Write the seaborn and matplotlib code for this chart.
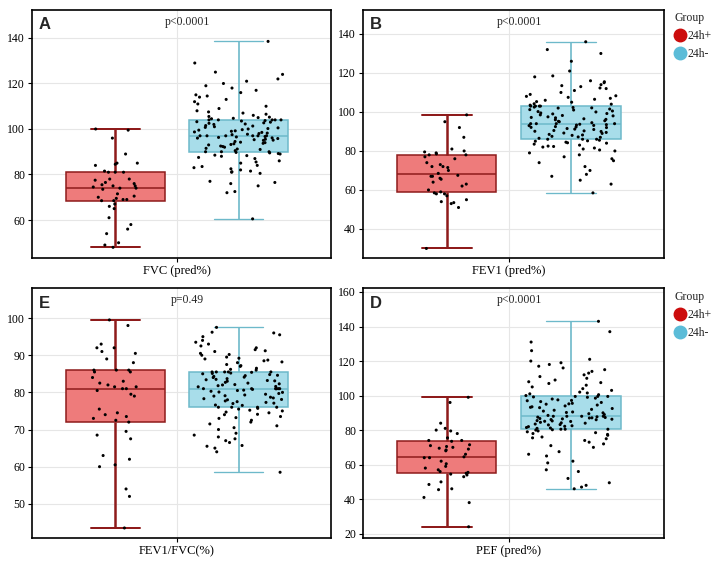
import numpy as np
import pandas as pd
import matplotlib
matplotlib.use("Agg")
import matplotlib.pyplot as plt
from matplotlib.lines import Line2D
import seaborn as sns

# ---- data ----
groups = ["24h+", "24h-"]
panel_letters = ["A", "B", "E", "D"]
variables = ["FVC (pred%)", "FEV1 (pred%)", "FEV1/FVC(%)", "PEF (pred%)"]
p_labels = ["p<0.0001", "p<0.0001", "p=0.49", "p<0.0001"]

fvc_pos = [100, 99.5, 96, 89, 85, 85, 84.5, 84, 81.5, 81, 81, 78, 78, 77.5,
           76.5, 76, 75.5, 75, 75, 74.5, 74, 74, 73.5, 71.5, 70.5, 70, 69.5,
           69, 69, 68.5, 68.5, 67, 66, 65, 61, 58, 56, 54, 50, 49, 48, 81]
fvc_neg = [60.5, 72, 72.5, 75, 76, 76.5, 77, 80.5, 81, 81.2, 81.5, 82, 82.5,
           83, 83.5, 84, 85, 85.5, 86, 87, 87.5, 88, 88.3, 88.5, 89, 89.2,
           89.5, 89.7, 90, 90,
           90, 90.5, 91, 91.2, 91.5, 92, 92.3, 92.5, 93, 93.2, 93.5, 93.7,
           94, 94.2, 94.5, 95, 95.1, 95.3, 95.5, 95.8, 96, 96.1, 96.3, 96.5,
           96.7, 97, 97, 97, 97, 97,
           97, 97.5, 97.7, 98, 98.2, 98.5, 98.7, 99, 99.2, 99.5, 99.7, 100,
           100.2, 100.5, 100.7, 101, 101.3, 101.5, 102, 102.2, 102.5, 102.7,
           103, 103.2, 103.5, 103.7, 104, 104, 104, 104,
           104, 104.5, 104.7, 105, 105.2, 105.5, 106, 106.5, 107, 107.5, 108,
           109, 110, 111, 112, 113, 114, 114.5, 115, 116, 117, 118, 119, 120,
           121, 122, 124, 125, 129, 138.5]

fev1_pos = [98.5, 95, 92, 87, 81, 80, 79.5, 79, 78.5, 78, 78, 77, 76, 74,
            73, 72, 72, 71.5, 70, 68.5, 67.5, 67, 67, 66, 65.5, 64, 63, 62,
            60, 59, 58.5, 58, 58, 57, 55, 54, 53.5, 53, 51, 30]
fev1_neg = [58.5, 63, 65, 67, 68, 70, 72, 74, 75, 76, 77, 78, 79, 80, 80.5,
            81, 81.5, 82, 82.3, 82.5, 83, 83.5, 84, 84.2, 84.5, 85, 85.2, 85.5,
            86, 86,
            86, 86.5, 87, 87.2, 87.5, 88, 88.2, 88.5, 89, 89.2, 89.5, 90, 90.1,
            90.3, 90.5, 91, 91.2, 91.5, 92, 92.1, 92.3, 92.5, 93, 93.1, 93.3,
            93.5, 93.7, 94, 94, 94,
            94, 94.5, 95, 95.2, 95.5, 96, 96.2, 96.5, 97, 97.2, 97.5, 98, 98.2,
            98.5, 99, 99.2, 99.5, 100, 100.2, 100.5, 101, 101.2, 101.5, 102,
            102.1, 102.3, 102.5, 103, 103, 103,
            103, 103.5, 104, 104.2, 105, 105.3, 106, 106.5, 107, 107.5, 108,
            108.3, 109, 110, 111, 112, 112.3, 113, 113.5, 114, 115, 115.5, 116,
            118, 118.5, 121, 126, 130, 132, 136]

ratio_pos = [99.5, 98, 93, 92, 92, 91, 90.5, 89, 88, 86, 86, 86, 85.5, 85.5,
             84, 83, 82.5, 82, 81.5, 81.5, 81, 81, 80.5, 79.5, 79, 75.5, 74.5,
             74, 73.5, 73, 72.5, 72, 69.5, 68.5, 67.5, 63, 62, 60.5, 60, 54,
             52, 43.5]
ratio_neg = [58.5, 64, 65, 65.5, 65.7, 66.5, 67, 67.5, 68, 68.5, 69, 70, 70.5,
             71, 71.5, 72, 72.5, 73, 73.2, 73.5, 74, 74.1, 74.5, 74.7, 75,
             75.2, 75.5, 75.7, 76, 76,
             76, 76, 76.5, 76.6, 77, 77.1, 77.3, 77.5, 77.7, 78, 78.1, 78.3,
             78.5, 78.7, 79, 79.1, 79.3, 79.5, 79.7, 80, 80.1, 80.3, 80.5, 80.6,
             80.8, 81, 81, 81, 81, 81,
             81, 81, 81.5, 81.6, 81.8, 82, 82.1, 82.3, 82.5, 82.7, 83, 83.1,
             83.2, 83.4, 83.5, 83.7, 84, 84.1, 84.3, 84.5, 84.6, 84.8, 85, 85.1,
             85.2, 85.4, 85.5, 85.5, 85.5, 85.5,
             85.5, 86, 86.2, 86.5, 87, 87.2, 87.5, 88, 88.2, 88.5, 88.7, 89,
             89.2, 89.5, 90, 90.2, 90.5, 91, 91.2, 91.5, 92, 92.5, 93, 93.5,
             94, 95, 95.5, 96, 96.2, 97.5]

pef_pos = [99, 96, 84, 81, 80, 79.5, 78, 75.5, 74, 74, 73.5, 71.5, 71, 70.5,
           70, 69.5, 69, 68.5, 68, 66, 64, 64.5, 64, 62, 60.5, 59, 58, 57, 56,
           55.5, 55, 54.5, 54, 53, 50, 48.5, 46, 45.5, 41, 38, 24]
pef_neg = [46, 47, 48, 49.5, 52, 56, 57, 61, 62, 65, 66, 67.5, 70, 71, 72, 73,
           74, 75, 75.5, 76, 77, 77.5, 78, 78.5, 79, 79.5, 80, 80.2, 80.5, 80.5,
           80.5, 81, 81.2, 81.5, 82, 82.2, 82.5, 83, 83.2, 83.5, 84, 84.2,
           84.5, 85, 85.1, 85.3, 85.5, 86, 86.1, 86.3, 86.5, 86.7, 87, 87.1,
           87.3, 87.5, 87.7, 88, 88, 88,
           88, 88.5, 89, 89.5, 90, 90.2, 90.5, 91, 91.5, 92, 92.5, 93, 93.2,
           93.5, 94, 94.5, 95, 95.2, 95.5, 96, 96.5, 97, 97.2, 97.5, 98, 98.5,
           99, 99.2, 99.5, 99.5,
           99.5, 100, 100.5, 101, 101.5, 102, 103, 104, 105, 106, 107, 107.5,
           108, 109, 110, 111, 112, 113, 114, 115, 116, 117, 118, 119, 120,
           121, 126, 131, 137, 143]

panel_data = [(fvc_pos, fvc_neg), (fev1_pos, fev1_neg),
              (ratio_pos, ratio_neg), (pef_pos, pef_neg)]

# ---- styling ----
box_face = {"24h+": "#EE7B7B", "24h-": "#A8DDEA"}
box_edge = {"24h+": "#8E1B1B", "24h-": "#6DB9CA"}
legend_colors = {"24h+": "#CC0C0C", "24h-": "#5BBCD8"}
jitter = {"24h+": 0.15, "24h-": 0.29}
whisker_lw = {"24h+": 1.8, "24h-": 1.2}

axes_pos = [[32 / 720, 306 / 564, 299 / 720, 248 / 564],
            [363 / 720, 306 / 564, 301 / 720, 248 / 564],
            [32 / 720, 26 / 564, 299 / 720, 250 / 564],
            [363 / 720, 26 / 564, 301 / 720, 250 / 564]]
ylims = [(43.3, 152.3), (25.1, 152.3), (40.8, 108.1), (17.5, 162.3)]
yticks = [range(60, 141, 20), range(40, 141, 20), range(50, 101, 10),
          range(20, 161, 20)]

sns.set_theme(style="white")
plt.rcParams["font.family"] = ["Liberation Serif", "DejaVu Serif"]
np.random.seed(7)

fig = plt.figure(figsize=(7.2, 5.64), dpi=100)

for i in range(4):
    ax = fig.add_axes(axes_pos[i])
    pos, neg = panel_data[i]
    df = pd.DataFrame({
        "var": variables[i],
        "value": list(pos) + list(neg),
        "group": ["24h+"] * len(pos) + ["24h-"] * len(neg),
    })
    for g in groups:
        sub = df[df["group"] == g]
        sns.boxplot(data=sub, x="var", y="value", hue="group",
                    hue_order=groups, palette=box_face, dodge=True,
                    width=0.8, gap=0.2, whis=(0, 100), saturation=1,
                    linecolor=box_edge[g], linewidth=1.1, showfliers=False,
                    whiskerprops={"linewidth": whisker_lw[g]},
                    capprops={"linewidth": whisker_lw[g] * 0.8},
                    legend=False, ax=ax)
    for g in groups:
        sub = df[df["group"] == g]
        sns.stripplot(data=sub, x="var", y="value", hue="group",
                      hue_order=groups, palette={k: "black" for k in groups},
                      dodge=True, jitter=jitter[g], size=2.2, linewidth=0,
                      legend=False, ax=ax, zorder=5)

    ax.set_xlim(-0.47, 0.5)
    ax.set_ylim(*ylims[i])
    ax.set_yticks(list(yticks[i]))
    ax.set_xlabel("")
    ax.set_ylabel("")
    ax.grid(True, color="#E6E6E6", linewidth=0.8)
    ax.set_axisbelow(True)
    for s in ax.spines.values():
        s.set_color("black")
        s.set_linewidth(1.2)
    ax.tick_params(axis="both", which="both", direction="out", length=3,
                   width=0.8, colors="black", labelsize=8.5, pad=2,
                   left=True, bottom=True)
    ax.tick_params(axis="x", labelsize=9)

    ax.text(0.023, 0.94, panel_letters[i], transform=ax.transAxes,
            fontsize=12, fontweight="bold", family="Liberation Sans",
            ha="left", va="center")
    ax.text(0.52, 0.95, p_labels[i], transform=ax.transAxes, fontsize=8.5,
            ha="center", va="center")

handles = [Line2D([], [], marker="o", linestyle="", markersize=9,
                  markerfacecolor=legend_colors[g],
                  markeredgecolor=legend_colors[g]) for g in groups]
for top in [4 / 564, 283 / 564]:
    leg = fig.legend(handles, groups, title="Group", loc="upper left",
                     bbox_to_anchor=(666 / 720, 1 - top), frameon=False,
                     fontsize=8.5, title_fontsize=8.5, handlelength=0.9,
                     handletextpad=0.2, labelspacing=0.5, borderpad=0.2)
    leg._legend_box.align = "left"

fig.savefig("out.png", dpi=100)
